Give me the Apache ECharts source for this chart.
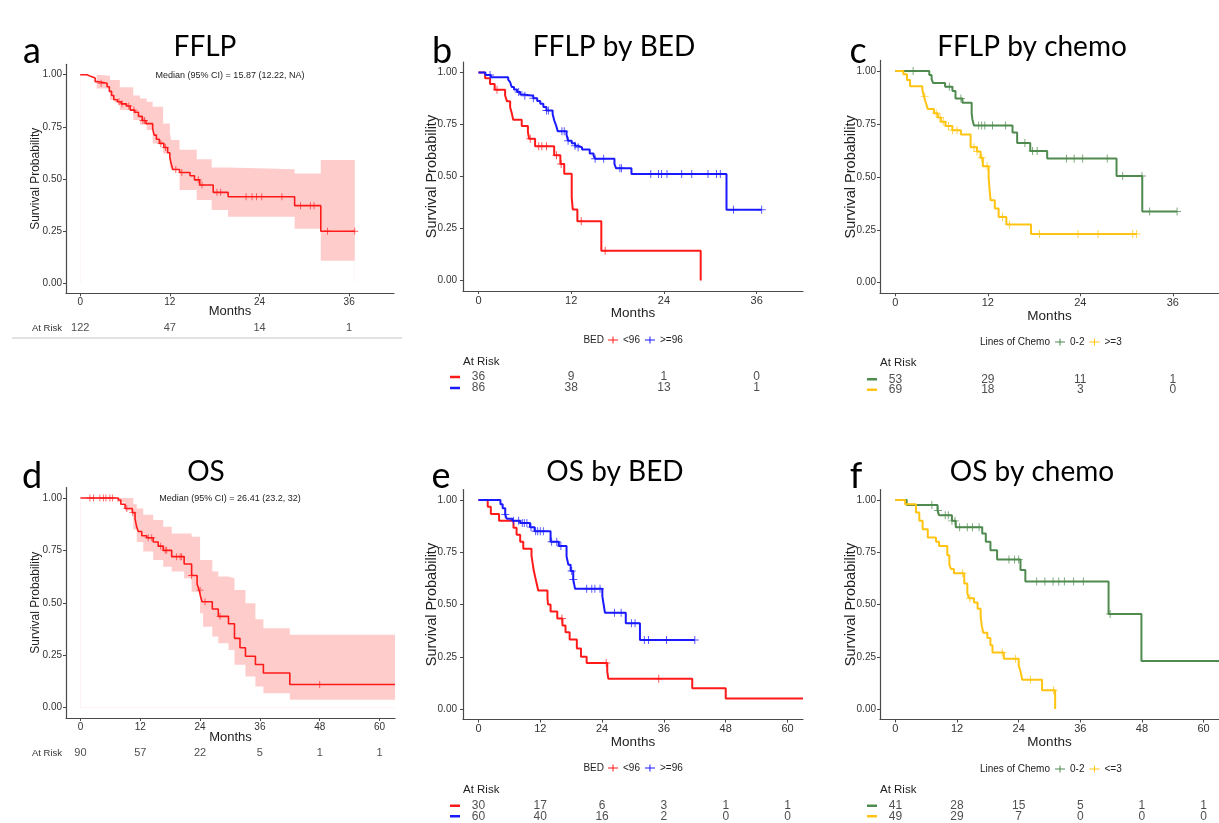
<!DOCTYPE html>
<html>
<head>
<meta charset="utf-8">
<script src="https://cdn.jsdelivr.net/npm/echarts@6/dist/echarts.min.js"></script>
<style>
  html, body { margin: 0; background: #fff; }
  #chart { width: 1219px; height: 823px; }
</style>
</head>
<body>
<div id="chart"></div>
<script>
// ---- shared ticks ----
const riskTimes36 = [0, 12, 24, 36]
const riskTimes60 = [0, 12, 24, 36, 48, 60]
const probTicks = [0, 0.25, 0.5, 0.75, 1]

// ---- a: FFLP ----
const aTime = [0, 0.9, 1.4, 2.0, 2.3, 3.6, 3.9, 4.2, 4.5, 5.0, 5.5, 6.2, 6.7, 7.3, 7.8, 8.3, 8.8, 9.7, 9.9, 10.2, 10.6, 11.2, 11.7, 12.0, 12.2, 12.4, 13.3, 14.7, 15.3, 16.0, 17.8, 19.8, 28.7, 32.2, 36.75]
const aSurv = [1.0, 0.992, 0.984, 0.967, 0.959, 0.942, 0.92, 0.90, 0.88, 0.87, 0.86, 0.85, 0.83, 0.82, 0.80, 0.78, 0.765, 0.74, 0.71, 0.69, 0.67, 0.65, 0.625, 0.60, 0.57, 0.545, 0.53, 0.515, 0.495, 0.47, 0.435, 0.414, 0.371, 0.248, 0.248]
const aCens = [2.8, 5.2, 5.6, 6.5, 7.2, 8.4, 8.6, 10.8, 11.4, 12.8, 13.6, 15.8, 16.3, 18.3, 18.8, 22.2, 23.0, 23.6, 24.3, 27.0, 29.5, 30.8, 31.3, 33.1, 36.75]
const aBandTime = [0, 2.2, 4.0, 5.3, 7.1, 8.0, 8.9, 9.7, 11.1, 12.0, 12.2, 13.3, 15.6, 17.6, 19.8, 28.7, 32.2, 36.75]
const aBandUp = [1.0, 0.995, 0.974, 0.94, 0.90, 0.886, 0.87, 0.846, 0.766, 0.72, 0.686, 0.64, 0.594, 0.554, 0.546, 0.526, 0.59, 0.59]
const aBandLow = [1.0, 0.934, 0.878, 0.83, 0.782, 0.76, 0.734, 0.67, 0.622, 0.56, 0.542, 0.446, 0.398, 0.35, 0.318, 0.26, 0.106, 0.106]
const aRisk = [122, 47, 14, 1]

// ---- b: FFLP by BED ----
const bLowTime = [0, 0.86, 1.5, 2.1, 3.45, 3.7, 4.1, 4.3, 4.5, 5.6, 6.4, 6.55, 7.33, 9.8, 10.6, 11.1, 12.07, 12.2, 12.8, 15.9, 28.76]
const bLowSurv = [1.0, 0.972, 0.944, 0.917, 0.889, 0.861, 0.833, 0.806, 0.772, 0.743, 0.714, 0.681, 0.645, 0.602, 0.56, 0.513, 0.40, 0.342, 0.285, 0.143, 0.0]
const bLowCens = [2.4, 6.7, 7.8, 8.2, 8.8, 10.1, 10.7, 13.3, 16.4]
const bHighTime = [0, 0.9, 1.6, 3.85, 4.1, 4.3, 4.6, 5.0, 5.4, 5.8, 7.1, 7.6, 8.0, 8.4, 8.8, 9.6, 9.8, 10.05, 10.26, 11.4, 11.6, 12.07, 12.5, 12.9, 13.4, 14.4, 14.9, 15.1, 17.6, 17.8, 19.8, 32.1, 36.65]
const bHighSurv = [1.0, 0.988, 0.977, 0.965, 0.953, 0.93, 0.918, 0.906, 0.894, 0.888, 0.876, 0.863, 0.85, 0.834, 0.817, 0.80, 0.77, 0.745, 0.717, 0.70, 0.672, 0.66, 0.648, 0.64, 0.63, 0.61, 0.60, 0.585, 0.56, 0.54, 0.512, 0.34, 0.34]
const bHighCens = [1.5, 5.2, 6.0, 7.1, 8.8, 9.05, 10.8, 11.1, 11.6, 12.5, 12.9, 15.1, 16.2, 18.3, 18.5, 22.3, 23.3, 23.7, 24.4, 26.3, 27.6, 29.7, 30.8, 31.3, 33.0, 36.65]
const bRiskLow = [36, 9, 1, 0]
const bRiskHigh = [86, 38, 13, 1]

// ---- c: FFLP by chemo ----
const cFewTime = [0, 4.4, 4.7, 4.9, 6.45, 7.4, 7.8, 8.7, 9.9, 10.0, 10.2, 15.2, 15.8, 17.5, 19.7, 28.7, 32.04, 36.56]
const cFewSurv = [1.0, 0.981, 0.962, 0.943, 0.925, 0.905, 0.87, 0.85, 0.80, 0.77, 0.742, 0.71, 0.66, 0.622, 0.587, 0.504, 0.336, 0.336]
const cFewCens = [2.3, 7.0, 8.5, 10.8, 11.2, 11.6, 12.6, 14.3, 16.8, 17.8, 18.4, 22.2, 23.2, 24.3, 27.5, 29.5, 32.0, 33.0, 36.56]
const cManyTime = [0, 1.03, 1.5, 1.9, 3.5, 3.7, 3.95, 4.2, 5.0, 5.5, 5.9, 6.5, 7.4, 8.5, 9.76, 10.6, 11.05, 11.35, 12.1, 12.2, 12.35, 12.9, 13.4, 14.4, 17.6, 31.3]
const cManySurv = [1.0, 0.985, 0.957, 0.928, 0.91, 0.88, 0.85, 0.82, 0.80, 0.78, 0.76, 0.74, 0.72, 0.70, 0.64, 0.62, 0.59, 0.55, 0.50, 0.45, 0.39, 0.35, 0.31, 0.275, 0.23, 0.23]
const cManyCens = [3.8, 5.3, 5.8, 6.2, 6.9, 7.4, 8.0, 10.2, 10.6, 11.2, 11.9, 13.9, 14.8, 18.7, 23.7, 26.3, 30.8, 31.3]
const cRiskFew = [53, 29, 11, 1]
const cRiskMany = [69, 18, 3, 0]

// ---- d: OS ----
const dTime = [0, 7.6, 8.1, 8.95, 10.4, 10.95, 11.3, 11.6, 12.3, 13.3, 14.6, 15.6, 16.6, 18.3, 20.8, 22.3, 23.4, 23.8, 24.1, 24.4, 26.45, 27.65, 29.7, 30.9, 32.0, 33.1, 35.1, 36.7, 42.0, 63.1]
const dSurv = [1.0, 0.99, 0.97, 0.95, 0.93, 0.90, 0.86, 0.84, 0.82, 0.81, 0.79, 0.77, 0.75, 0.72, 0.685, 0.63, 0.59, 0.56, 0.53, 0.505, 0.47, 0.435, 0.40, 0.33, 0.285, 0.245, 0.205, 0.165, 0.11, 0.11]
const dCens = [1.9, 2.6, 3.9, 4.6, 5.1, 5.9, 6.4, 9.3, 10.5, 13.6, 14.3, 16.1, 17.0, 17.3, 19.3, 20.0, 20.3, 22.3, 24.0, 25.0, 28.0, 48.0]
const dBandTime = [0, 7.3, 8.95, 10.6, 11.3, 12.6, 14.6, 16.6, 18.3, 20.8, 22.3, 24.0, 24.6, 26.45, 27.65, 29.7, 30.9, 33.1, 35.1, 36.7, 42.0, 63.1]
const dBandUp = [1.0, 1.0, 1.0, 0.97, 0.95, 0.92, 0.895, 0.863, 0.83, 0.83, 0.815, 0.704, 0.704, 0.649, 0.625, 0.617, 0.561, 0.498, 0.421, 0.378, 0.347, 0.347]
const dBandLow = [1.0, 0.98, 0.94, 0.85, 0.79, 0.744, 0.704, 0.672, 0.649, 0.617, 0.553, 0.45, 0.386, 0.339, 0.307, 0.275, 0.204, 0.148, 0.10, 0.068, 0.037, 0.037]
const dRisk = [90, 57, 22, 5, 1, 1]

// ---- e: OS by BED ----
const eLowTime = [0, 1.8, 2.4, 4.0, 6.8, 7.4, 8.1, 8.7, 10.3, 10.5, 10.7, 11.0, 11.3, 11.6, 13.4, 13.5, 14.0, 15.3, 16.3, 16.9, 17.7, 19.1, 19.9, 21.0, 25.0, 25.2, 41.5, 48.0, 63.0]
const eLowSurv = [1.0, 0.967, 0.933, 0.90, 0.867, 0.833, 0.80, 0.767, 0.733, 0.70, 0.667, 0.633, 0.60, 0.567, 0.533, 0.50, 0.467, 0.433, 0.40, 0.367, 0.333, 0.29, 0.25, 0.22, 0.18, 0.145, 0.10, 0.05, 0.05]
const eLowCens = [16.2, 24.8, 35.0]
const eHighTime = [0, 4.27, 4.7, 5.2, 5.5, 6.6, 8.1, 10.0, 10.9, 14.0, 15.6, 17.1, 17.45, 17.9, 18.4, 18.75, 24.05, 24.3, 24.56, 28.6, 31.35, 42.0]
const eHighSurv = [1.0, 0.98, 0.96, 0.93, 0.91, 0.90, 0.89, 0.87, 0.85, 0.80, 0.78, 0.73, 0.69, 0.66, 0.62, 0.575, 0.54, 0.50, 0.46, 0.41, 0.33, 0.33]
const eHighCens = [5.2, 6.8, 7.8, 8.5, 8.9, 9.4, 10.2, 11.1, 11.5, 12.0, 12.6, 14.2, 15.2, 16.0, 18.1, 18.4, 21.0, 22.0, 22.6, 23.6, 26.4, 27.7, 29.7, 30.4, 32.2, 33.0, 36.5, 42.0]
const eRiskLow = [30, 17, 6, 3, 1, 1]
const eRiskHigh = [60, 40, 16, 2, 0, 0]

// ---- f: OS by chemo ----
const fFewTime = [0, 2.2, 8.2, 8.5, 11.0, 11.75, 16.9, 17.6, 18.5, 19.8, 24.35, 25.3, 41.5, 47.9, 63.0]
const fFewSurv = [1.0, 0.976, 0.95, 0.927, 0.90, 0.87, 0.84, 0.80, 0.76, 0.715, 0.665, 0.61, 0.455, 0.23, 0.23]
const fFewCens = [7.1, 8.3, 9.7, 10.3, 11.0, 11.6, 12.5, 14.0, 15.0, 16.3, 22.1, 23.2, 24.0, 27.5, 29.1, 30.7, 31.8, 32.9, 34.7, 36.6, 41.8]
const fManyTime = [0, 1.9, 4.0, 4.65, 5.3, 6.3, 7.9, 8.5, 10.1, 10.5, 10.8, 11.4, 13.4, 14.0, 14.3, 15.3, 16.0, 16.6, 16.8, 17.1, 17.9, 18.5, 18.9, 21.1, 24.0, 24.35, 24.7, 28.55, 31.1]
const fManySurv = [1.0, 0.98, 0.94, 0.90, 0.86, 0.82, 0.80, 0.78, 0.735, 0.69, 0.67, 0.65, 0.60, 0.555, 0.53, 0.51, 0.48, 0.445, 0.40, 0.365, 0.34, 0.305, 0.27, 0.24, 0.21, 0.18, 0.14, 0.09, 0.0]
const fManyCens = [13.1, 14.5, 20.8, 23.4, 26.3, 30.8]
const fRiskFew = [41, 28, 15, 5, 1, 1]
const fRiskMany = [49, 29, 7, 0, 0, 0]

// ---- styling ----
const RED = '#ff1a1a'
const BLUE = '#1a1aff'
const GREEN = '#4f8a4f'
const YELLOW = '#ffc412'
const BAND = '#ffcccc'
const AXIS = '#4a4a4a'
const TXT = '#222'
const SANS = '"Liberation Sans", Arial, sans-serif'
const TITLE_FONT = 'Lato, "Open Sans", sans-serif'
const PLUS = 'path://M0,4.4H10V5.6H0Z M4.4,0H5.6V10H4.4Z'
const LEG_ICON = 'path://M0,4.3H14V5.7H0Z M6.3,0H7.7V10H6.3Z'

function survAt(times, surv, t) {
  let s = surv[0]
  for (let i = 0; i < times.length; i++) if (times[i] <= t) s = surv[i]
  return s
}
const pairs = (xs, ys) => xs.map((x, i) => [x, ys[i]])

const option = {
  animation: false,
  backgroundColor: '#fff',
  grid: [], xAxis: [], yAxis: [], series: [], legend: [], graphic: []
}

function addPanel(p) {
  const gi = option.grid.length
  option.grid.push(Object.assign({ containLabel: false }, p.box))
  option.xAxis.push({
    gridIndex: gi, type: 'value', min: p.xRange[0], max: p.xRange[1],
    splitLine: { show: false },
    axisLine: { onZero: false, lineStyle: { color: AXIS, width: 1.2 } },
    axisTick: { customValues: p.ticks, length: 3, lineStyle: { color: AXIS } },
    axisLabel: { customValues: p.ticks, fontSize: p.xTickSize, color: '#333', fontFamily: SANS, margin: 4 },
    name: 'Months', nameLocation: 'middle', nameGap: p.xNameGap, nameMoveOverlap: false,
    nameTextStyle: { fontSize: p.xNameSize, color: TXT, fontFamily: SANS }
  })
  option.yAxis.push({
    gridIndex: gi, type: 'value', min: -0.05, max: 1.05,
    splitLine: { show: false },
    axisLine: { show: true, onZero: false, lineStyle: { color: AXIS, width: 1.2 } },
    axisTick: { show: true, customValues: probTicks, length: 3, lineStyle: { color: AXIS } },
    axisLabel: { customValues: probTicks, fontSize: p.yTickSize, color: '#333', fontFamily: SANS, margin: p.yLabelMargin,
      formatter: v => v.toFixed(2) },
    name: 'Survival Probability', nameLocation: 'middle', nameGap: p.yNameGap, nameRotate: 90, nameMoveOverlap: false,
    nameTextStyle: { fontSize: p.yNameSize, color: TXT, fontFamily: SANS }
  })

  if (p.band) {
    // pink area up to the upper limit, then white from the lower limit down to 0
    const b = p.band
    option.series.push({
      type: 'line', xAxisIndex: gi, yAxisIndex: gi, step: 'end',
      symbol: 'none', lineStyle: { opacity: 0 }, silent: true, z: 1,
      areaStyle: { color: BAND, opacity: 1, origin: 0 },
      data: pairs(b.time, b.up)
    }, {
      type: 'line', xAxisIndex: gi, yAxisIndex: gi, step: 'end',
      symbol: 'none', lineStyle: { opacity: 0 }, silent: true, z: 2,
      areaStyle: { color: '#fff', opacity: 1, origin: 0 },
      data: pairs(b.time, b.low)
    })
  }

  p.curves.forEach(c => {
    option.series.push({
      name: c.name, type: 'line', xAxisIndex: gi, yAxisIndex: gi, step: 'end',
      symbol: 'none', z: 3, color: c.color,
      lineStyle: { color: c.color, width: p.lineWidth },
      data: pairs(c.time, c.surv)
    }, {
      name: c.name, type: 'scatter', xAxisIndex: gi, yAxisIndex: gi, z: 4,
      symbol: PLUS, symbolSize: p.plusSize,
      itemStyle: { color: c.color, opacity: 0.75 },
      data: c.cens.map(t => [t, survAt(c.time, c.surv, t)])
    })
  })

  // at-risk table
  const ri = option.grid.length
  option.grid.push(p.riskBox)
  option.xAxis.push({ gridIndex: ri, type: 'value', min: p.xRange[0], max: p.xRange[1], show: false })
  const rich = {}
  p.risk.forEach((r, k) => {
    if (r.color) rich['r' + k] = { width: 10, height: 2.5, backgroundColor: r.color, fontSize: 2, lineHeight: 2.5 }
  })
  option.yAxis.push({
    gridIndex: ri, type: 'category', inverse: true,
    data: p.risk.map((r, k) => 'r' + k),
    axisLine: { show: false }, axisTick: { show: false }, splitLine: { show: false },
    axisLabel: {
      interval: 0, margin: p.riskLabelMargin, fontSize: p.riskLabelSize, color: '#333', fontFamily: SANS,
      formatter: (v, k) => p.risk[k].color ? '{' + v + '| }' : p.risk[k].label,
      rich
    }
  })
  p.risk.forEach((r, k) => {
    option.series.push({
      type: 'scatter', xAxisIndex: ri, yAxisIndex: ri, symbolSize: 0, silent: true,
      label: { show: true, position: 'inside', formatter: q => q.value[2],
        fontSize: p.riskSize, color: TXT, fontFamily: SANS },
      data: p.riskTimes.map((t, j) => [t, k, r.values[j]])
    })
  })

  if (p.legend) {
    option.legend.push({
      data: p.curves.map(c => ({ name: c.name, icon: LEG_ICON })),
      left: p.legend.left, top: p.legend.top, padding: 0,
      itemWidth: 10, itemHeight: 9, itemGap: 5, selectedMode: false,
      textStyle: { fontSize: 10, color: TXT, fontFamily: SANS, padding: [0, 0, 0, 0] }
    })
  }
}

const bigBox = { xTickSize: 10, yTickSize: 10, yNameSize: 12, xNameSize: 13, xNameGap: 12, yNameGap: 24, yLabelMargin: 4,
  lineWidth: 1.6, plusSize: 7, riskSize: 11, riskLabelSize: 9.5, riskLabelMargin: 4 }
const byBox = { xTickSize: 11, yTickSize: 10, yNameSize: 14.5, xNameSize: 13.5, xNameGap: 15.5, yNameGap: 24, yLabelMargin: 6,
  lineWidth: 2, plusSize: 8, riskSize: 12, riskLabelSize: 12, riskLabelMargin: 3 }
const chemoBox = Object.assign({}, byBox, { yNameGap: 22, yLabelMargin: 4 })

addPanel(Object.assign({}, bigBox, {
  box: { left: 66, top: 64.3, width: 328, height: 229 },
  xRange: [-1.9, 42], ticks: riskTimes36,
  band: { time: aBandTime, low: aBandLow, up: aBandUp },
  curves: [{ name: 'FFLP', color: RED, time: aTime, surv: aSurv, cens: aCens }],
  riskBox: { left: 66, top: 322, width: 328, height: 12 },
  riskTimes: riskTimes36, risk: [{ label: 'At Risk', values: aRisk }]
}))
addPanel(Object.assign({}, byBox, {
  box: { left: 463, top: 62, width: 340, height: 229 },
  xRange: [-2, 42], ticks: riskTimes36,
  curves: [
    { name: '<96', color: RED, time: bLowTime, surv: bLowSurv, cens: bLowCens },
    { name: '>=96', color: BLUE, time: bHighTime, surv: bHighSurv, cens: bHighCens }
  ],
  riskBox: { left: 463, top: 371.5, width: 340, height: 22 },
  riskTimes: riskTimes36,
  risk: [{ color: RED, values: bRiskLow }, { color: BLUE, values: bRiskHigh }],
  legend: { left: 608, top: 335 }
}))
addPanel(Object.assign({}, chemoBox, {
  box: { left: 880, top: 60.4, width: 341, height: 232.9 },
  xRange: [-2, 42], ticks: riskTimes36,
  curves: [
    { name: '0-2', color: GREEN, time: cFewTime, surv: cFewSurv, cens: cFewCens },
    { name: '>=3', color: YELLOW, time: cManyTime, surv: cManySurv, cens: cManyCens }
  ],
  riskBox: { left: 880, top: 374, width: 341, height: 21 },
  riskTimes: riskTimes36,
  risk: [{ color: GREEN, values: cRiskFew }, { color: YELLOW, values: cRiskMany }],
  legend: { left: 1055, top: 337 }
}))
addPanel(Object.assign({}, bigBox, {
  box: { left: 66, top: 487.5, width: 329, height: 230.5 },
  xRange: [-2.9, 63.1], ticks: riskTimes60, xNameGap: 12.5,
  band: { time: dBandTime, low: dBandLow, up: dBandUp },
  curves: [{ name: 'OS', color: RED, time: dTime, surv: dSurv, cens: dCens }],
  riskBox: { left: 66, top: 747, width: 329, height: 12 },
  riskTimes: riskTimes60, risk: [{ label: 'At Risk', values: dRisk }]
}))
addPanel(Object.assign({}, byBox, {
  box: { left: 463, top: 489.5, width: 340, height: 230 },
  xRange: [-3, 63], ticks: riskTimes60, xNameGap: 16,
  curves: [
    { name: '<96', color: RED, time: eLowTime, surv: eLowSurv, cens: eLowCens },
    { name: '>=96', color: BLUE, time: eHighTime, surv: eHighSurv, cens: eHighCens }
  ],
  riskBox: { left: 463, top: 800.5, width: 340, height: 21 },
  riskTimes: riskTimes60,
  risk: [{ color: RED, values: eRiskLow }, { color: BLUE, values: eRiskHigh }],
  legend: { left: 608, top: 763 }
}))
addPanel(Object.assign({}, chemoBox, {
  box: { left: 880, top: 489.5, width: 341, height: 230 },
  xRange: [-3, 63], ticks: riskTimes60, xNameGap: 16,
  curves: [
    { name: '0-2', color: GREEN, time: fFewTime, surv: fFewSurv, cens: fFewCens },
    { name: '<=3', color: YELLOW, time: fManyTime, surv: fManySurv, cens: fManyCens }
  ],
  riskBox: { left: 880, top: 800.5, width: 341, height: 21 },
  riskTimes: riskTimes60,
  risk: [{ color: GREEN, values: fRiskFew }, { color: YELLOW, values: fRiskMany }],
  legend: { left: 1055, top: 764 }
}))

// ---- texts ----
function txt(x, y, text, font, align, vAlign, fill) {
  option.graphic.push({ type: 'text', x, y, silent: true,
    style: { text, font, fill: fill || '#000', textAlign: align || 'center', textVerticalAlign: vAlign || 'alphabetic' } })
}
const letterFont = '36px ' + TITLE_FONT
const titleFont = '28px ' + TITLE_FONT
txt(32, 33, 'a', letterFont); txt(442, 33, 'b', letterFont); txt(858, 33, 'c', letterFont)
txt(32, 458, 'd', letterFont); txt(441, 458, 'e', letterFont); txt(856, 458, 'f', letterFont)
txt(205, 33, 'FFLP', titleFont); txt(614, 33, 'FFLP by BED', titleFont); txt(1032, 33, 'FFLP by chemo', titleFont)
txt(206, 458, 'OS', titleFont); txt(615, 458, 'OS by BED', titleFont); txt(1032, 458, 'OS by chemo', titleFont)

const small = '9px ' + SANS
txt(230, 76, 'Median (95% CI) = 15.87 (12.22, NA)', small, 'center', 'middle', TXT)
txt(230, 499, 'Median (95% CI) = 26.41 (23.2, 32)', small, 'center', 'middle', TXT)

const legFont = '10px ' + SANS
txt(604, 340, 'BED', legFont, 'right', 'middle', TXT)
txt(1050, 342, 'Lines of Chemo', legFont, 'right', 'middle', TXT)
txt(604, 768, 'BED', legFont, 'right', 'middle', TXT)
txt(1050, 769, 'Lines of Chemo', legFont, 'right', 'middle', TXT)

const riskFont = '11.5px ' + SANS
txt(463, 362, 'At Risk', riskFont, 'left', 'middle', TXT)
txt(880, 363, 'At Risk', riskFont, 'left', 'middle', TXT)
txt(463, 790, 'At Risk', riskFont, 'left', 'middle', TXT)
txt(880, 790, 'At Risk', riskFont, 'left', 'middle', TXT)

option.graphic.push({ type: 'line', silent: true,
  shape: { x1: 12, y1: 338, x2: 402, y2: 338 }, style: { stroke: '#e2e2e2', lineWidth: 2 } })

const chart = echarts.init(document.getElementById('chart'), null, { renderer: 'canvas' })
chart.setOption(option)
</script>
</body>
</html>
